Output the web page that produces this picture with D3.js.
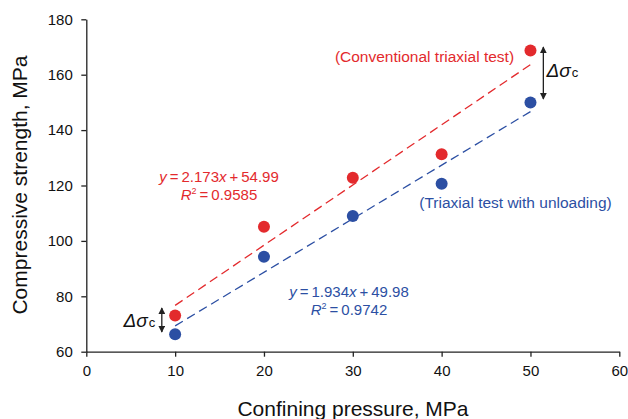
<!DOCTYPE html>
<html>
<head>
<meta charset="utf-8">
<script src="https://cdn.jsdelivr.net/npm/d3@7"></script>
<style>
    body { margin: 0; background: #fff; }
    svg text { font-family: "Liberation Sans", Arial, sans-serif; }
    .axis path, .axis line { stroke: #222; stroke-width: 1.3; }
    .axis text { font-size: 15px; fill: #111; }
</style>
</head>
<body>
<svg id="strength" width="628" height="419"></svg>
<script>
    // data
    const pressure = [10, 20, 30, 40, 50];
    const conventional = [73.1, 105.1, 122.8, 131.3, 168.7];
    const unloading = [66.3, 94.3, 109.0, 120.6, 150.0];
    const xTicks = [0, 10, 20, 30, 40, 50, 60];
    const yTicks = [60, 80, 100, 120, 140, 160, 180];
    // linear fits shown on the chart
    const fitConventional = { slope: 2.173, intercept: 54.99, r2: "0.9585" };
    const fitUnloading = { slope: 1.934, intercept: 49.98, r2: "0.9742" };

    const red = "#e32a2d";
    const blue = "#2c4fa3";

    const svg = d3.select("svg#strength");
    const xScale = d3.scaleLinear().domain([0, 60]).range([86.3, 619.3]);
    const yScale = d3.scaleLinear().domain([60, 180]).range([351.7, 19.3]);

    //axes
    svg.append("g")
        .attr("class", "x axis")
        .attr("transform", `translate(0,${yScale(60)})`)
        .call(d3.axisBottom(xScale).tickValues(xTicks).tickSize(5).tickSizeOuter(0).tickPadding(9));
    svg.append("g")
        .attr("class", "y axis")
        .attr("transform", `translate(${xScale(0)},0)`)
        .call(d3.axisLeft(yScale).tickValues(yTicks).tickSize(5).tickSizeOuter(0).tickPadding(8.5));

    svg.append("text")
        .attr("x", 353).attr("y", 416)
        .attr("text-anchor", "middle")
        .attr("font-size", 21)
        .attr("fill", "#111")
        .text("Confining pressure, MPa");
    svg.append("text")
        .attr("transform", "translate(26.5,185) rotate(-90)")
        .attr("text-anchor", "middle")
        .attr("font-size", 21)
        .attr("fill", "#111")
        .text("Compressive strength, MPa");

    //fit lines
    const series = [
        { values: conventional, fit: fitConventional, color: red },
        { values: unloading, fit: fitUnloading, color: blue }
    ];
    const line = d3.line().x(d => xScale(d[0])).y(d => yScale(d[1]));
    series.forEach(s => {
        const ends = [pressure[0], pressure[pressure.length - 1]]
            .map(p => [p, s.fit.slope * p + s.fit.intercept]);
        svg.append("path")
            .attr("d", line(ends))
            .attr("fill", "none")
            .attr("stroke", s.color)
            .attr("stroke-width", 1.3)
            .attr("stroke-dasharray", "9,5");
    });

    //points
    series.forEach(s => {
        svg.append("g").selectAll("circle")
            .data(pressure.map((p, i) => [p, s.values[i]]))
            .join("circle")
            .attr("cx", d => xScale(d[0]))
            .attr("cy", d => yScale(d[1]))
            .attr("r", 6)
            .attr("fill", s.color);
    });

    //equations
    function equation(fit, color, cx, y) {
        const t1 = svg.append("text").attr("x", cx).attr("y", y)
            .attr("text-anchor", "middle").attr("font-size", 15).attr("fill", color);
        t1.append("tspan").attr("font-style", "italic").text("y");
        t1.append("tspan").text("\u2009=\u2009" + fit.slope.toFixed(3));
        t1.append("tspan").attr("font-style", "italic").text("x");
        t1.append("tspan").text("\u2009+\u2009" + fit.intercept.toFixed(2));
        const t2 = svg.append("text").attr("x", cx).attr("y", y + 18)
            .attr("text-anchor", "middle").attr("font-size", 15).attr("fill", color);
        t2.append("tspan").attr("font-style", "italic").text("R");
        t2.append("tspan").attr("font-size", 9).attr("dy", -6).text("2");
        t2.append("tspan").attr("dy", 6).text("\u2009=\u2009" + fit.r2);
    }
    equation(fitConventional, red, 219, 181.5);
    equation(fitUnloading, blue, 349, 297);

    svg.append("text")
        .attr("x", 424.5).attr("y", 62)
        .attr("text-anchor", "middle").attr("font-size", 15.5).attr("fill", red)
        .text("(Conventional triaxial test)");
    svg.append("text")
        .attr("x", 515.5).attr("y", 208)
        .attr("text-anchor", "middle").attr("font-size", 15.5).attr("fill", blue)
        .text("(Triaxial test with unloading)");

    //delta sigma arrows
    const defs = svg.append("defs");
    defs.append("marker")
        .attr("id", "head")
        .attr("viewBox", "0 0 10 10")
        .attr("refX", 9).attr("refY", 5)
        .attr("markerWidth", 7).attr("markerHeight", 7)
        .attr("markerUnits", "userSpaceOnUse")
        .attr("orient", "auto-start-reverse")
        .append("path").attr("d", "M0,0 L10,5 L0,10 z").attr("fill", "#222");

    function delta(xv, y0, y1, tx, ty) {
        svg.append("line")
            .attr("x1", xScale(xv)).attr("x2", xScale(xv))
            .attr("y1", yScale(y0)).attr("y2", yScale(y1))
            .attr("stroke", "#222").attr("stroke-width", 1.3)
            .attr("marker-start", "url(#head)").attr("marker-end", "url(#head)");
        const t = svg.append("text").attr("x", tx).attr("y", ty).attr("fill", "#111");
        t.append("tspan").attr("font-style", "italic").attr("font-size", 19).text("\u0394\u03c3");
        t.append("tspan").attr("font-size", 13).attr("dx", 1).text("c");
    }
    delta(8.5, 75.8, 67.1, 123.5, 326.5);
    delta(51.45, 170, 151.2, 546.5, 77);
</script>
</body>
</html>
